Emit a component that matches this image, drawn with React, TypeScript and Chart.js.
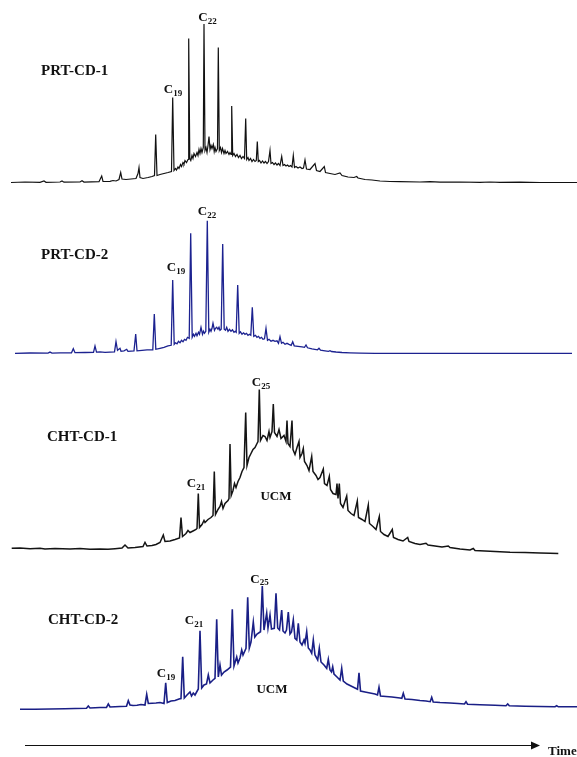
import React, { useEffect, useRef } from "react";
import { Chart, registerables } from "chart.js";

Chart.register(...registerables);

// Retention time (arbitrary units) and detector response (arbitrary units above baseline)
const prtCd1: [number, number][] = [
  [11,0],[25,0.5],[40,0.2],[44,1.5],[46,0.2],[60,0.5],[62,1.5],[64,0.3],[80,0.5],[82,1.8],[84,0.4],[99,0.8],[101.7,6.5],[103,1],[110,1.2],[113,2],[116,1.5],[119,3],[120.7,10],[122,3.5],[126,3],[131,3.5],[136,4],[138,9],[139,15],[140,5],[143,4],[148,5],[152,6],[154.5,7],[155.7,48],[157,7],[160,8],[164,9],[168,10],[171.5,11],[172.7,85],
  [174,12],[175.5,14],[176.5,12.5],[178,15.5],[179,14],[180.5,18],[181.5,16],[183,20],[184,18.5],[185,22],[186.5,20],[188,23],[188.7,144],[189.8,24],[190.8,22],[192,27],[193,24],[194,29],[195.5,26],[197,30],[198,27],[199,33],[200,29],[201,34],[202,30],[203.3,35],[204,158.5],[205,32],[206,35],[207,30],[208,37],[209,46],[210,33],[211,37],[212,34],[213.3,38],[214.2,31],[215,35],[216,31],[217.5,34],[218.3,135],[219.3,32],[220.5,35],[221.5,30],[222.5,34],[224,29],[225,32],[226,29],[227.5,31],[229,28],[230,30],[231,28],[231.7,76.5],[232.7,27],[234,29],[235.5,26],[237,28],[238.5,25],[240,27],[241.5,24],[243,26],[244.5,24],[245.7,64],[246.7,23],[248,25],[249,22],[250.5,24],[252,21],[253.5,23],[255,21],[256.3,22],[257.3,41],[258.3,21],[259.5,22],[261,19.5],[262.5,21.5],[264,19.5],[265.5,21],[267,19],[268.5,21],[270,32],[271,19],[272.5,20],[274,18],[275.5,19.5],[277,17.5],[278.5,19],[280,17],[281.7,26],[283,17],[284.5,18],[286,16.5],[287.5,17.5],[289,16],[290.5,17],[292,15.5],[293.3,27],[294.5,15],[296,16],[298,14.5],[300,15.5],[302,14],[303.5,14.5],[305,22.5],[306.5,13.5],
  [310,13],[315,19],[316.5,12],[320,11],[324.3,16],[325.5,10],[330,9],[335,8],[340,9.5],[342,7],[348,5.5],[354,5],[356.7,6],[358,4.5],[365,3],[372,2.5],[380,1.5],[390,1],[400,0.8],[420,0.5],[430,0.8],[440,0.3],[460,0.5],[480,0.2],[490,0.5],[500,0.2],[520,0.4],[540,0],[577,0]
];

const prtCd2: [number, number][] = [
  [15,0],[30,0.3],[48,0.2],[50,1.2],[52,0.2],[60,0.4],[71.5,0.5],[73.3,4.6],[75,0.6],[85,0.8],[93.5,1],[95,7.3],[96.5,1.2],[100,1.5],[105,1],[114.5,1.5],[116,11.6],[117.5,3],[120,5],[121,2],[124,2.5],[126.7,4],[128,2],[134,2.5],[135.7,19.3],[137,2.5],[142,3],[147,3.5],[152.8,3.5],[154.3,39.3],[155.8,4],[160,5],[164,6],[168,7.5],[171.2,8],[172.7,73.3],
  [174.2,9],[175.5,10.5],[177,9.5],[178.5,12],[180,10.5],[181.5,13],[183,11.5],[184.5,14],[186,13],[187.5,16],[189.2,15],[190.7,120],[192.2,16],[193.5,19],[194.5,17],[196,20],[197,17.5],[198.5,21],[199.5,19],[201,26],[202.5,19],[203.5,22],[204.5,20],[205.8,22],[207.3,132.6],[208.8,21],[210,24],[211,22],[212,25],[213,30],[214.5,23],[215.5,25],[216.7,26],[218,24],[219,26],[220,23],[221.2,24],[222.7,109.3],[224.2,24],[225.5,23],[226.7,26],[228,22],[229.5,24],[231,22],[232.5,23.5],[234,21],[235.2,22],[236.2,21],[237.7,68.3],[239.2,20],[240.5,21.5],[242,19],[243.5,20.5],[245,19],[246.5,20],[248,18],[249.5,19],[250.8,18],[252.3,46],[253.8,17],[255.5,18],[257,16],[258.5,17],[260,15],[261.5,16],[263,14],[264.5,14.5],[266,25],[267.5,13],[269,14],[271,12],[273,13],[275,12],[277,12.5],[278.5,10],[280,16.6],[281.5,10],[283,11],[285,9],[287,10],[289,9],[291.2,8],[292.7,11.6],[294.2,7.5],
  [298,7],[302,6.5],[304.5,6],[306,8.3],[307.5,5.5],[312,4.5],[317.5,3.5],[319,5],[320.5,3.2],[325,2.5],[328.5,2],[330,2.6],[331.5,1.8],[336,1.3],[342,0.8],[350,0.5],[360,0.2],[375,0],[470,0],[572,0]
];

const chtCd1: [number, number][] = [
  [11.7,5.2],[20,5.5],[30,4.8],[40,5.3],[45,4.6],[55,5],[70,4.5],[80,5],[90,4.3],[100,4.6],[108,4.2],[115,4.8],[122,5.5],[125,8.5],[128,5.5],[135,6],[143,7],[145,11.2],[147,7.5],[152,8],[156,9],[160,11],[163.3,18.5],[165,12],[170,12.5],[175,14],[179.5,15.5],[181,36],[182.5,17],[186,20],[188,23],[190,21],[193,22.5],[196,24],[197,25],[198.3,60],[199.5,26],[202,29],[204,33],[205,31],[208,34],[211,36],[213,38],[214.3,82],[215.5,39],[218,44],[220,47],[221.5,52],[223,45],[225,50],[228,53],[229,55],[230,109.5],[231.2,58],[233,63],[234.5,70],[236,66],[238,72],[240,76],[242,82],[244,86],[245.7,141],[247,88],[249,96],[251,100],[253,104],[255,106],[257,110],[258,112],[259.3,164],[260.5,113],[263,118],[265,117],[267,113],[269,122],[270,116],[272,122],[273.3,149.5],[274.5,121],[277,117],[279,124],[281,115],[284,118],[286,112],[287,133],[288,110],[290,107],[292,133],[293,104],[295,99],[297,106],[299,112],[300,96],[302,100],[303.3,105],[304.5,92],[307,88],[309,83],[311.7,97],[313,82],[316,78],[318,74],[320,76],[323.3,84.5],[324.5,70],[327,68],[329.3,77],[330.5,64],[333,60],[336,59],[337,70],[338,55],[339.3,70],[340.5,50],[343,46],[346.7,57.5],[348,43],[351,40],[354,38],[357.3,52.5],[358.5,36],[362,34],[365,32],[368.3,48.5],[369.5,30],[373,27],[376,24],[379.3,37],[380.5,22],[384,19],[388,17],[392.3,24],[393.5,16],[398,14],[403,12.5],[407.7,16],[409,12],[415,10],[420,9],[426,10.2],[428,8.5],[435,7.5],[442,6.5],[448.3,7.5],[450,6],[460,4.5],[470,3.5],[473.3,5],[475,3],[490,2.2],[500,1.8],[510,1.2],[525,1],[540,0.5],[550,0.3],[558.3,0]
];

const chtCd2: [number, number][] = [
  [20,0.7],[35,0.8],[50,1],[65,1.3],[75,1.5],[86.5,1.8],[88.3,4],[90,2],[95,2.2],[100,2.5],[106.5,2.6],[108.3,6],[110,3],[115,3.2],[120,3.5],[126.5,3.8],[128.3,9.3],[130,5],[133,4.5],[137,4.8],[141,5.5],[145,5],[146.7,15.7],[148.3,6.5],[152,6.8],[156,7],[160,7.5],[164,6.5],[165.7,27.3],[167.3,7.5],[171,9],[175,9.5],[179,11],[181,11.5],[182.7,53.3],[184.3,12],[187,15],[190,18],[191.5,14],[193.3,17],[195,15],[198.3,21],[200,79.3],[201.7,22],[204,25],[206.5,26],[208.3,35],[210,27],[213,30],[215,31.7],[216.7,90.7],[218.3,33],[220,45],[221.5,35],[224,38],[227,40],[230.5,43],[232.3,100.7],[234,44],[236.7,53],[238,47],[240,52],[241.7,60],[243,55],[246,61.7],[247.7,112.7],[249.3,62],[251,68],[253.3,88],[254.8,73],[257,76],[260.5,78.3],[262.3,124],[264,80],[266.7,97],[268,82],[270,95],[271.5,81],[274.3,81.7],[276,116.7],[277.7,82],[279.5,80],[281.7,100],[283,79],[285,77],[286.5,80],[288.3,98],[290,76],[291.5,78],[293.3,90],[295,71.7],[296.8,70],[298.3,86.7],[300,68],[302,65],[304,70],[305,66.7],[306.7,78.3],[308.3,62],[310,60],[311.7,56.7],[313.3,70],[315,55],[317.7,50],[319.3,61.7],[321,48],[324,45],[326.7,41.7],[328.3,50.7],[330,40],[331.5,38],[332.7,43.3],[334,36],[337,33],[340,30],[341.7,41.7],[343.3,29],[347,26],[351,24],[355,22],[357.5,20.7],[359,37.3],[360.5,19],[365,18],[370,17],[375,16],[377.5,15],[379,22.7],[380.5,14],[386,13.5],[392,13],[396,12.5],[400,12],[401.8,11.7],[403.3,16.7],[405,11],[412,10.5],[420,9.5],[426,9],[430.2,8.3],[431.7,12.7],[433.2,8],[440,7.5],[450,7],[458,6.5],[464.5,6],[466,8.3],[467.5,5.8],[480,5.2],[495,4.7],[506,4.3],[507.7,6],[509.3,4.2],[525,3.8],[540,3.5],[555,3.3],[556.7,4.3],[558.3,3.2],[577,3.3]
];

const sampleNames = ["PRT-CD-1", "PRT-CD-2", "CHT-CD-1", "CHT-CD-2"];

// Peak annotations: [sample index, retention time, response, main text, subscript]
const peakLabels: [number, number, number, string, string][] = [
  [0, 173, 92.5, "C", "19"],
  [0, 207.5, 164.5, "C", "22"],
  [1, 176, 85.3, "C", "19"],
  [1, 207, 141.3, "C", "22"],
  [2, 196, 69.5, "C", "21"],
  [2, 261, 170.5, "C", "25"],
  [3, 166, 36, "C", "19"],
  [3, 194, 89, "C", "21"],
  [3, 259.5, 130.5, "C", "25"],
];

// Name label anchor: [retention time, response]
const nameAnchors: [number, number][] = [
  [41, 111.5],
  [41, 98.3],
  [47, 116.8],
  [48, 90],
];

// UCM label: [sample index, retention time, response]
const ucmLabels: [number, number, number][] = [
  [2, 276, 56.8],
  [3, 272, 20],
];

const W = 577;
const H = 757;
const baselines = [182.5, 353.3, 553.5, 710];
const colors = ["#111111", "#1c2290", "#141414", "#1a1f86"];
const widths = [1.2, 1.3, 1.5, 1.6];
const series = [prtCd1, prtCd2, chtCd1, chtCd2];

export default function App() {
  const ref = useRef<HTMLCanvasElement | null>(null);

  useEffect(() => {
    const canvas = ref.current;
    if (!canvas) return;

    const serif = "'Liberation Serif', 'Times New Roman', serif";
    const labelPlugin = {
      id: "chromLabels",
      afterDatasetsDraw(chart: any) {
        const ctx = chart.ctx as CanvasRenderingContext2D;
        const xs = chart.scales.x;
        ctx.save();
        ctx.fillStyle = "#111";
        ctx.font = "bold 15px " + serif;
        ctx.textBaseline = "middle";
        ctx.textAlign = "left";
        nameAnchors.forEach(([t, r], i) => {
          const ys = chart.scales["y" + i];
          ctx.fillText(sampleNames[i], xs.getPixelForValue(t), ys.getPixelForValue(r));
        });
        peakLabels.forEach(([i, t, r, main, sub]) => {
          const ys = chart.scales["y" + i];
          const px = xs.getPixelForValue(t);
          const py = ys.getPixelForValue(r);
          ctx.font = "bold 13px " + serif;
          const mw = ctx.measureText(main).width;
          ctx.font = "bold 9px " + serif;
          const sw = ctx.measureText(sub).width;
          const left = px - (mw + sw) / 2;
          ctx.textAlign = "left";
          ctx.font = "bold 13px " + serif;
          ctx.fillText(main, left, py);
          ctx.font = "bold 9px " + serif;
          ctx.fillText(sub, left + mw, py + 3.5);
        });
        ctx.font = "bold 13px " + serif;
        ctx.textAlign = "center";
        ucmLabels.forEach(([i, t, r]) => {
          const ys = chart.scales["y" + i];
          ctx.fillText("UCM", xs.getPixelForValue(t), ys.getPixelForValue(r));
        });
        const ys4 = chart.scales.y3;
        const ay = Math.round(ys4.getPixelForValue(-35)) + 0.5;
        const x0 = xs.getPixelForValue(25);
        const x1 = xs.getPixelForValue(540);
        ctx.strokeStyle = "#111";
        ctx.lineWidth = 1.2;
        ctx.beginPath();
        ctx.moveTo(x0, ay);
        ctx.lineTo(x1 - 6, ay);
        ctx.stroke();
        ctx.beginPath();
        ctx.moveTo(x1, ay);
        ctx.lineTo(x1 - 9, ay - 4);
        ctx.lineTo(x1 - 9, ay + 4);
        ctx.closePath();
        ctx.fill();
        ctx.textAlign = "left";
        ctx.font = "bold 13px " + serif;
        ctx.fillText("Time", xs.getPixelForValue(548), ay + 6);
        ctx.restore();
      },
    };

    const scales: any = {
      x: { type: "linear", min: 0, max: W, display: false },
    };
    baselines.forEach((b, i) => {
      scales["y" + i] = { type: "linear", min: b - H, max: b, display: false };
    });

    const chart = new Chart(canvas, {
      type: "line",
      data: {
        datasets: series.map((s, i) => ({
          label: sampleNames[i],
          data: s.map(([x, y]) => ({ x, y })),
          yAxisID: "y" + i,
          borderColor: colors[i],
          borderWidth: widths[i],
          pointRadius: 0,
          tension: 0,
          fill: false,
        })),
      },
      options: {
        responsive: false,
        maintainAspectRatio: false,
        animation: false,
        layout: { padding: 0 },
        plugins: { legend: { display: false }, tooltip: { enabled: false } },
        scales,
      },
      plugins: [labelPlugin],
    });
    return () => chart.destroy();
  }, []);

  return (
    <div style={{ position: "fixed", left: 0, top: 0, width: W, height: H, background: "#fff" }}>
      <canvas ref={ref} width={W} height={H} style={{ width: W, height: H, display: "block" }} />
    </div>
  );
}
